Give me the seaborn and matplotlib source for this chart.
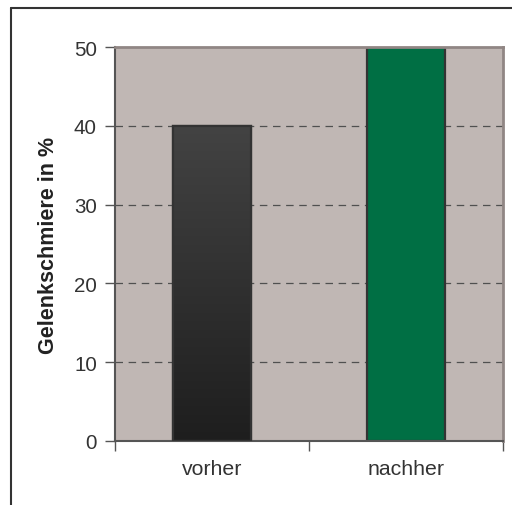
import matplotlib
matplotlib.use("Agg")
import matplotlib.pyplot as plt
import numpy as np
import pandas as pd
import seaborn as sns
from matplotlib.lines import Line2D

categories = ["vorher", "nachher"]
values = [40, 50]
colors = ["#2e2e2e", "#006f44"]
y_ticks = [0, 10, 20, 30, 40, 50]
y_label = "Gelenkschmiere in %"

df = pd.DataFrame({"Zeit": categories, "Wert": values})

sns.set_style("white")
plt.rcParams["font.family"] = ["Liberation Sans", "DejaVu Sans"]

fig = plt.figure(figsize=(5.12, 5.06), dpi=100)
ax = fig.add_axes([115 / 512, 1 - 442 / 506, 388 / 512, 394 / 506])
ax.set_facecolor("#c0b7b4")

# grid lines behind bars
for v in y_ticks[1:-1]:
    ax.axhline(v, color="#505050", lw=0.9, ls=(0, (6, 4.5)), zorder=1)

sns.barplot(data=df, x="Zeit", y="Wert", hue="Zeit", palette=colors,
            width=0.4, legend=False, ax=ax, zorder=2, saturation=1,
            edgecolor="#333333", linewidth=1.6)

# dark gradient for first bar
bar = ax.patches[0]
x0, y0 = bar.get_x(), bar.get_y()
w, h = bar.get_width(), bar.get_height()
grad = np.linspace(0, 1, 256).reshape(-1, 1)
cmap = matplotlib.colors.LinearSegmentedColormap.from_list(
    "dk", ["#1e1e1e", "#434343"])
im = ax.imshow(grad, extent=[x0, x0 + w, y0, y0 + h], origin="lower",
               cmap=cmap, aspect="auto", zorder=2.5)
im.set_clip_path(bar)
ax.add_patch(plt.Rectangle((x0, y0), w, h, fill=False,
                           edgecolor="#333333", lw=1.6, zorder=3))

ax.set_xlim(-0.5, 1.5)
ax.set_ylim(0, 50)
ax.set_yticks(y_ticks)
ax.set_xticks([0, 1])
ax.set_xticks([-0.5, 0.5, 1.5], minor=True)
ax.tick_params(axis="x", which="major", length=0, pad=13,
               labelsize=15.3, labelcolor="#333333")
ax.tick_params(axis="x", which="minor", length=7, width=1, color="#555555",
               direction="out", bottom=True)
ax.tick_params(axis="y", length=7, width=1, color="#555555", direction="out",
               labelsize=14.8, labelcolor="#333333", pad=6, left=True)
ax.set_xlabel("")
ax.set_ylabel(y_label, fontsize=15.5, fontweight="bold", color="#222222",
              labelpad=11)

for s in ["left", "bottom"]:
    ax.spines[s].set_color("#555555")
    ax.spines[s].set_linewidth(1.5)
for s in ["top", "right"]:
    ax.spines[s].set_color("#908684")
    ax.spines[s].set_linewidth(2)

# figure frame (top and left edges visible)
fig.add_artist(Line2D([11 / 512, 1.0], [1 - 9 / 506, 1 - 9 / 506],
                      color="#333333", lw=1.5, transform=fig.transFigure))
fig.add_artist(Line2D([11 / 512, 11 / 512], [0, 1 - 9 / 506],
                      color="#333333", lw=1.5, transform=fig.transFigure))

fig.savefig("out.png", dpi=100)
